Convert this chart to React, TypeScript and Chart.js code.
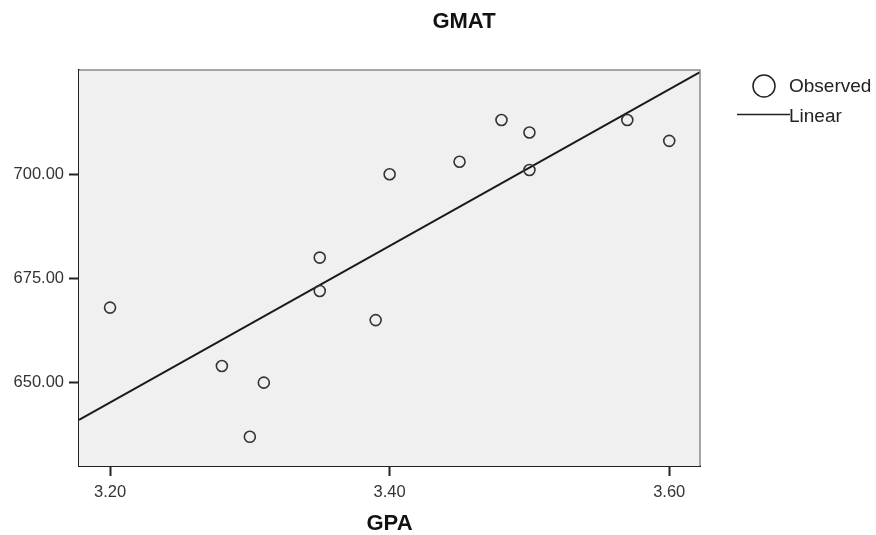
import React, { useEffect, useRef } from "react";
import { Chart, registerables } from "chart.js";

Chart.register(...registerables);

const gpa = [3.2, 3.28, 3.3, 3.31, 3.35, 3.35, 3.39, 3.4, 3.45, 3.48, 3.5, 3.5, 3.57, 3.6];
const gmat = [668, 654, 637, 650, 680, 672, 665, 700, 703, 713, 710, 701, 713, 708];
const xTicks = [3.2, 3.4, 3.6];
const yTicks = [650, 675, 700];
const xRange = [3.1778, 3.622];
const yRange = [630, 725];
const chartTitle = "GMAT";
const xTitle = "GPA";
const legendLabels = ["Observed", "Linear"];

const FONT = "'Liberation Sans', Arial, sans-serif";

function linearFit(xs: number[], ys: number[]) {
  const n = xs.length;
  const mx = xs.reduce((a, b) => a + b, 0) / n;
  const my = ys.reduce((a, b) => a + b, 0) / n;
  let sxy = 0, sxx = 0;
  for (let i = 0; i < n; i++) {
    sxy += (xs[i] - mx) * (ys[i] - my);
    sxx += (xs[i] - mx) * (xs[i] - mx);
  }
  const b = sxy / sxx;
  const a = my - b * mx;
  return (x: number) => a + b * x;
}

export default function App() {
  const ref = useRef<HTMLCanvasElement | null>(null);

  useEffect(() => {
    if (!ref.current) return;
    const fit = linearFit(gpa, gmat);
    const linePts = xRange.map((x) => ({ x, y: fit(x) }));

    const decor = {
      id: "decor",
      beforeDatasetsDraw(chart: any) {
        const { ctx, chartArea: ca } = chart;
        ctx.save();
        ctx.fillStyle = "#f0f0f0";
        ctx.fillRect(ca.left, ca.top, ca.right - ca.left, ca.bottom - ca.top);
        ctx.restore();
      },
      afterDraw(chart: any) {
        const { ctx, chartArea: ca } = chart;
        ctx.save();
        // top & right border
        ctx.strokeStyle = "#8a8a8a";
        ctx.lineWidth = 1.5;
        ctx.beginPath();
        ctx.moveTo(ca.left, ca.top);
        ctx.lineTo(ca.right, ca.top);
        ctx.lineTo(ca.right, ca.bottom);
        ctx.stroke();
        // title
        ctx.fillStyle = "#111";
        ctx.font = `bold 22px ${FONT}`;
        ctx.textAlign = "center";
        ctx.textBaseline = "middle";
        ctx.fillText(chartTitle, 464, 22);
        // legend
        ctx.strokeStyle = "#222";
        ctx.lineWidth = 1.5;
        ctx.beginPath();
        ctx.arc(764, 86, 11, 0, Math.PI * 2);
        ctx.stroke();
        ctx.beginPath();
        ctx.moveTo(737, 114.5);
        ctx.lineTo(790, 114.5);
        ctx.stroke();
        ctx.font = `19px ${FONT}`;
        ctx.textAlign = "left";
        ctx.fillStyle = "#222";
        ctx.fillText(legendLabels[0], 789, 87);
        ctx.fillText(legendLabels[1], 789, 117);
        ctx.restore();
      },
    };

    const chart = new Chart(ref.current, {
      type: "scatter",
      data: {
        datasets: [
          {
            label: legendLabels[0],
            data: gpa.map((x, i) => ({ x, y: gmat[i] })),
            pointRadius: 5.5,
            pointBorderWidth: 1.6,
            pointBorderColor: "#333",
            pointBackgroundColor: "rgba(0,0,0,0)",
            showLine: false,
          },
          {
            label: legendLabels[1],
            data: linePts,
            type: "line" as any,
            showLine: true,
            borderColor: "#1a1a1a",
            borderWidth: 2,
            pointRadius: 0,
            fill: false,
          },
        ],
      },
      plugins: [decor],
      options: {
        animation: false,
        responsive: true,
        maintainAspectRatio: false,
        layout: { padding: { left: 0, top: 70, right: 176, bottom: 0 } },
        plugins: {
          legend: { display: false },
          tooltip: { enabled: false },
          title: { display: false },
        },
        scales: {
          x: {
            type: "linear",
            min: xRange[0],
            max: xRange[1],
            afterBuildTicks: (s: any) => {
              s.ticks = xTicks.map((v) => ({ value: v }));
            },
            afterFit: (s: any) => {
              s.height = 69;
            },
            grid: {
              display: true,
              drawOnChartArea: false,
              drawTicks: true,
              tickLength: 10,
              tickColor: "#222",
              tickWidth: 2,
            },
            border: { display: true, color: "#222", width: 2 },
            ticks: {
              padding: 7,
              color: "#333",
              font: { family: FONT, size: 16.5 },
              callback: (v: any) => Number(v).toFixed(2),
            },
            title: {
              display: true,
              text: xTitle,
              color: "#111",
              font: { family: FONT, size: 22, weight: "bold", lineHeight: 1 },
              padding: { top: 0, bottom: 0 },
            },
          },
          y: {
            type: "linear",
            min: yRange[0],
            max: yRange[1],
            afterBuildTicks: (s: any) => {
              s.ticks = yTicks.map((v) => ({ value: v }));
            },
            afterFit: (s: any) => {
              s.width = 79;
            },
            grid: {
              display: true,
              drawOnChartArea: false,
              drawTicks: true,
              tickLength: 10,
              tickColor: "#222",
              tickWidth: 2,
            },
            border: { display: true, color: "#222", width: 2 },
            ticks: {
              padding: 5,
              color: "#333",
              font: { family: FONT, size: 16.5 },
              callback: (v: any) => Number(v).toFixed(2),
            },
          },
        },
      },
    });
    return () => chart.destroy();
  }, []);

  return (
    <div style={{ position: "fixed", left: 0, top: 0, width: 876, height: 535, background: "#fff" }}>
      <canvas ref={ref} />
    </div>
  );
}
